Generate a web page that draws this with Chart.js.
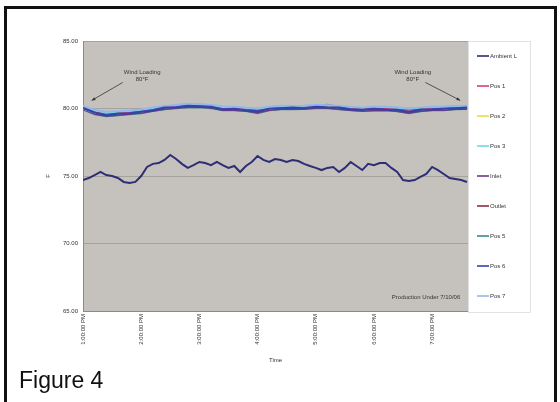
<!DOCTYPE html>
<html>
<head>
<meta charset="utf-8">
<script src="https://cdn.jsdelivr.net/npm/chart.js@4/dist/chart.umd.min.js"></script>
<style>
  body { margin: 0; width: 560px; height: 402px; background: #fff; overflow: hidden; position: relative; font-family: 'Liberation Sans', Arial, sans-serif; }
  #frame { position: absolute; left: 4px; top: 6px; width: 553px; height: 430px; border: 3px solid #111; box-sizing: border-box; }
  #chart { position: absolute; left: 0; top: 0; }
  #fig { position: absolute; left: 19px; top: 369px; font-size: 23px; line-height: 23px; color: #111; }
</style>
</head>
<body>
<div id="frame"></div>
<canvas id="chart" width="560" height="402"></canvas>
<div id="fig">Figure 4</div>
<script>
// time axis: ticks every hour, readings every 6 min (ambient) / 12 min (probes)
const tickLabels = ['1:00:00 PM', '2:00:00 PM', '3:00:00 PM', '4:00:00 PM', '5:00:00 PM', '6:00:00 PM', '7:00:00 PM'];
const seriesNames = ['Ambient L', 'Pos 1', 'Pos 2', 'Pos 3', 'Inlet', 'Outlet', 'Pos 5', 'Pos 6', 'Pos 7'];
const seriesColors = ['#2e2e74', '#d8406a', '#e8e040', '#70d8e8', '#6a3a86', '#8a3040', '#3a8a8a', '#3443a8', '#94b6ee'];

const ambient = [74.70, 74.85, 75.07, 75.30, 75.07, 75.00, 74.85, 74.56, 74.48, 74.56, 75.00, 75.67, 75.90, 75.96, 76.19, 76.56, 76.26,
  75.90, 75.60, 75.80, 76.04, 75.96, 75.80, 76.04, 75.80, 75.60, 75.74, 75.30, 75.74, 76.04, 76.48, 76.19, 76.04, 76.26, 76.19,
  76.04, 76.19, 76.11, 75.90, 75.74, 75.60, 75.44, 75.60, 75.67, 75.30, 75.60, 76.04, 75.74, 75.44, 75.90, 75.80, 75.96, 75.96,
  75.60, 75.30, 74.70, 74.63, 74.70, 74.93, 75.15, 75.67, 75.44, 75.15, 74.85, 74.78, 74.70, 74.56];
const pos1 = [80.08, 79.74, 79.60, 79.66, 79.72, 79.80, 79.94, 80.09, 80.16, 80.24, 80.25, 80.16, 80.03, 80.02, 79.95, 79.88, 80.02,
  80.10, 80.10, 80.12, 80.18, 80.28, 80.12, 80.04, 79.96, 80.02, 80.03, 79.96, 79.90, 79.96, 80.03, 80.06, 80.12, 80.18];
const pos2 = [80.00, 79.70, 79.56, 79.63, 79.70, 79.77, 79.91, 80.06, 80.13, 80.20, 80.21, 80.13, 79.99, 79.98, 79.92, 79.84, 79.98,
  80.06, 80.06, 80.07, 80.13, 80.14, 80.07, 79.99, 79.92, 79.98, 79.99, 79.92, 79.85, 79.92, 79.99, 80.00, 80.06, 80.07];
const pos3 = [80.16, 79.84, 79.70, 79.76, 79.82, 79.90, 80.03, 80.17, 80.24, 80.32, 80.31, 80.24, 80.11, 80.10, 80.04, 79.99, 80.10,
  80.18, 80.17, 80.19, 80.24, 80.23, 80.17, 80.10, 80.04, 80.10, 80.11, 80.05, 79.99, 80.04, 80.10, 80.12, 80.17, 80.18];
const inlet = [79.96, 79.60, 79.45, 79.52, 79.60, 79.67, 79.82, 79.96, 80.04, 80.11, 80.12, 80.04, 79.88, 79.89, 79.82, 79.70, 79.88,
  79.96, 79.96, 79.97, 80.04, 80.04, 79.96, 79.88, 79.82, 79.86, 79.88, 79.80, 79.68, 79.80, 79.88, 79.88, 79.96, 79.97];
const outlet = [80.02, 79.65, 79.50, 79.58, 79.65, 79.72, 79.87, 80.02, 80.09, 80.16, 80.17, 80.09, 79.94, 79.94, 79.87, 79.78, 79.94,
  80.02, 80.02, 80.02, 80.09, 80.09, 80.02, 79.94, 79.87, 79.93, 79.94, 79.87, 79.78, 79.87, 79.94, 79.94, 80.02, 80.02];
const pos5 = [79.93, 79.57, 79.42, 79.50, 79.57, 79.64, 79.80, 79.93, 80.02, 80.09, 80.10, 80.02, 79.86, 79.86, 79.80, 79.64, 79.86,
  79.93, 79.93, 79.95, 80.02, 80.02, 79.93, 79.86, 79.80, 79.84, 79.86, 79.78, 79.64, 79.78, 79.86, 79.86, 79.93, 79.95];
const pos6 = [80.04, 79.70, 79.50, 79.62, 79.64, 79.76, 79.86, 80.06, 80.08, 80.20, 80.16, 80.12, 79.94, 79.98, 79.86, 79.78, 79.98,
  80.02, 80.06, 80.02, 80.12, 80.08, 80.06, 79.94, 79.90, 79.98, 79.92, 79.90, 79.76, 79.92, 79.94, 79.98, 80.02, 80.06];
const pos7 = [80.20, 79.90, 79.76, 79.80, 79.86, 79.94, 80.08, 80.20, 80.27, 80.35, 80.33, 80.27, 80.15, 80.13, 80.07, 80.03, 80.13,
  80.21, 80.20, 80.22, 80.27, 80.25, 80.20, 80.13, 80.07, 80.13, 80.14, 80.08, 80.02, 80.07, 80.13, 80.15, 80.20, 80.21];

const seriesValues = [ambient, pos1, pos2, pos3, inlet, outlet, pos5, pos6, pos7];
const seriesStep = [6, 12, 12, 12, 12, 12, 12, 12, 12];   // minutes between readings
const seriesOrder = [0, 5, 5, 4, 5, 5, 5, 1, 3];            // lower = drawn on top

// callouts, in minutes / degrees
const notes = [
  { text: ['Wind Loading', '80°F'], at: [61, 82.7], from: [41, 82.3], to: [9, 80.6] },
  { text: ['Wind Loading', '80°F'], at: [340, 82.7], from: [353, 82.3], to: [389, 80.6] }
];
const footNote = { text: 'Production Under 7/10/06', at: [389, 66.0] };

const datasets = seriesNames.map((name, i) => ({
  label: name,
  data: seriesValues[i].map((v, j) => ({ x: j * seriesStep[i], y: v })),
  borderColor: seriesColors[i],
  borderWidth: i === 0 ? 2 : (i === 7 ? 2.2 : 1.8),
  pointRadius: 0,
  order: seriesOrder[i],
  tension: 0
}));

const plotBackground = {
  id: 'plotBackground',
  beforeDraw(chart) {
    const { ctx, chartArea: a } = chart;
    ctx.save();
    ctx.fillStyle = '#c5c2bd';
    ctx.fillRect(a.left, a.top, a.right - a.left, a.bottom - a.top);
    ctx.restore();
  }
};

const callouts = {
  id: 'callouts',
  afterDatasetsDraw(chart) {
    const { ctx, scales: { x, y } } = chart;
    ctx.save();
    ctx.font = '6px "Liberation Sans", Arial';
    ctx.fillStyle = '#333';
    ctx.strokeStyle = '#333';
    ctx.lineWidth = 0.8;
    ctx.textAlign = 'center';
    ctx.textBaseline = 'middle';
    notes.forEach(n => {
      const cx = x.getPixelForValue(n.at[0]);
      const cy = y.getPixelForValue(n.at[1]);
      n.text.forEach((t, k) => ctx.fillText(t, cx, cy + k * 7));
      const x0 = x.getPixelForValue(n.from[0]), y0 = y.getPixelForValue(n.from[1]);
      const x1 = x.getPixelForValue(n.to[0]), y1 = y.getPixelForValue(n.to[1]);
      ctx.beginPath();
      ctx.moveTo(x0, y0 + 5);
      ctx.lineTo(x1, y1);
      ctx.stroke();
      const ang = Math.atan2(y1 - y0 - 5, x1 - x0);
      ctx.beginPath();
      ctx.moveTo(x1, y1);
      ctx.lineTo(x1 - 4 * Math.cos(ang - 0.4), y1 - 4 * Math.sin(ang - 0.4));
      ctx.lineTo(x1 - 4 * Math.cos(ang + 0.4), y1 - 4 * Math.sin(ang + 0.4));
      ctx.closePath();
      ctx.fill();
    });
    ctx.textAlign = 'right';
    ctx.fillText(footNote.text, x.getPixelForValue(footNote.at[0]), y.getPixelForValue(footNote.at[1]));
    ctx.restore();
  }
};

// Excel-style legend box to the right of the plot
const sideLegend = {
  id: 'sideLegend',
  afterDraw(chart) {
    const { ctx, chartArea: a } = chart;
    const left = a.right, w = 63, top = a.top, h = a.bottom - a.top + 2;
    ctx.save();
    ctx.fillStyle = '#fff';
    ctx.strokeStyle = '#e2e2e2';
    ctx.lineWidth = 1;
    ctx.fillRect(left, top, w, h);
    ctx.strokeRect(left + 0.5, top + 0.5, w - 1, h - 1);
    ctx.font = '6px "Liberation Sans", Arial';
    ctx.textBaseline = 'middle';
    ctx.textAlign = 'left';
    const step = (h - 2) / seriesNames.length;
    seriesNames.forEach((name, i) => {
      const yy = top + step / 2 + i * step;
      ctx.strokeStyle = seriesColors[i];
      ctx.lineWidth = 1.6;
      ctx.beginPath();
      ctx.moveTo(left + 9, yy);
      ctx.lineTo(left + 21, yy);
      ctx.stroke();
      ctx.fillStyle = '#333';
      ctx.fillText(name, left + 22, yy);
    });
    ctx.restore();
  }
};

new Chart(document.getElementById('chart'), {
  type: 'line',
  data: { datasets },
  options: {
    responsive: false,
    animation: false,
    devicePixelRatio: 1,
    layout: { padding: { left: 43, top: 41, right: 92, bottom: 38 } },
    plugins: { legend: { display: false }, tooltip: { enabled: false } },
    scales: {
      x: {
        type: 'linear',
        min: 0,
        max: 397,
        afterFit: s => { s.height = 53; },
        afterBuildTicks: s => { s.ticks = s.ticks.filter(t => t.value % 60 === 0); },
        ticks: {
          stepSize: 60,
          minRotation: 90,
          maxRotation: 90,
          padding: 3,
          color: '#333',
          font: { size: 6, family: 'Liberation Sans' },
          callback: v => tickLabels[v / 60]
        },
        grid: { display: false, drawTicks: false },
        border: { color: '#8c8a88', width: 1 },
        title: { display: true, text: 'Time', color: '#333', font: { size: 6, family: 'Liberation Sans' }, padding: 0 }
      },
      y: {
        min: 65,
        max: 85,
        afterFit: s => { s.width = 40; },
        ticks: {
          stepSize: 5,
          padding: 5,
          color: '#333',
          font: { size: 6, family: 'Liberation Sans' },
          callback: v => v.toFixed(2)
        },
        grid: { color: '#a6a39f', lineWidth: 1, drawTicks: false },
        border: { color: '#8c8a88', width: 1 },
        title: { display: true, text: 'F', color: '#333', font: { size: 6, family: 'Liberation Sans' }, padding: 2 }
      }
    }
  },
  plugins: [plotBackground, callouts, sideLegend]
});
</script>
</body>
</html>
